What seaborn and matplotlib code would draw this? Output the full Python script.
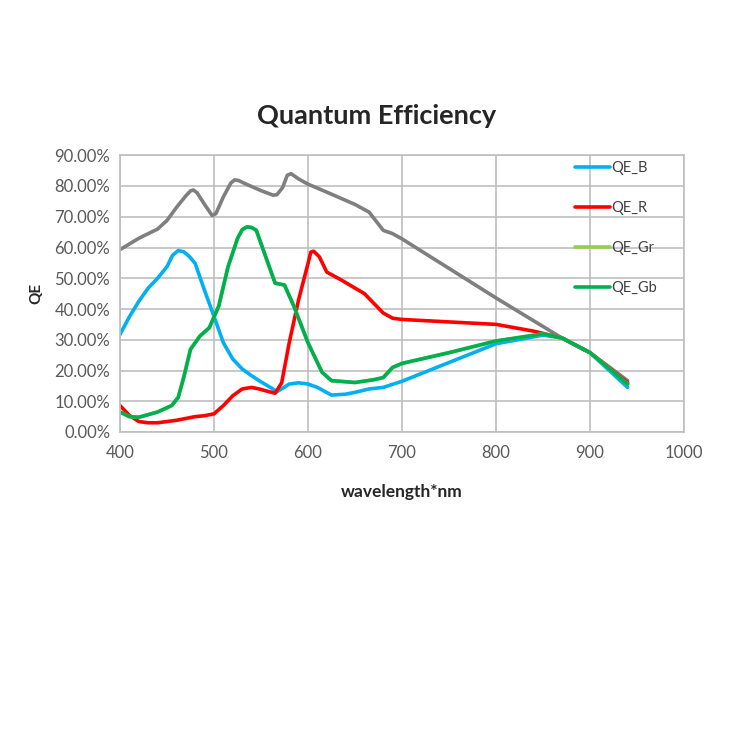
import numpy as np
import pandas as pd
import seaborn as sns
import matplotlib
matplotlib.use("Agg")
import matplotlib.pylab as plt
from matplotlib.ticker import PercentFormatter

# values (wavelength nm, QE %)
wl_mono = [400, 420, 440, 450, 460, 470, 475, 478, 482, 490, 498, 502, 510, 518, 522, 526, 535, 550, 563, 567, 573, 578,
           582, 590, 600, 620, 650, 665, 680, 690, 700, 800, 870, 900, 940]
qe_mono = [59.3, 63.0, 66.0, 68.8, 73.0, 76.8, 78.4, 78.7, 77.8, 74.0, 70.4, 71.0, 76.5, 81.0, 82.0, 81.8, 80.5, 78.5, 77.0, 77.2, 79.5, 83.5,
           84.0, 82.3, 80.6, 78.0, 74.0, 71.5, 65.6, 64.5, 62.8, 43.6, 30.6, 25.8, 16.7]

wl_b = [400, 410, 420, 430, 440, 450, 456, 462, 468, 474, 480, 490, 500, 510, 520, 530, 540, 550, 560, 567,
        575, 580, 590, 600, 610, 625, 640, 650, 665, 680, 700, 750, 800, 850, 870, 900, 940]
qe_b = [31.7, 37.5, 42.5, 46.8, 50.0, 53.8, 57.5, 59.0, 58.6, 57.0, 54.8, 46.0, 37.6, 29.0, 23.7, 20.5, 18.3, 16.3, 14.5, 13.1,
        14.6, 15.6, 16.0, 15.6, 14.5, 12.0, 12.3, 12.9, 14.0, 14.5, 16.5, 22.6, 28.7, 31.5, 30.6, 25.8, 14.5]

wl_r = [400, 410, 420, 430, 440, 460, 480, 490, 500, 510, 520, 530, 540, 548, 555, 565, 572, 580, 590,
        600, 603, 606, 612, 620, 635, 660, 680, 690, 700, 800, 840, 870, 900, 940]
qe_r = [8.6, 5.4, 3.4, 3.0, 3.0, 3.8, 5.0, 5.3, 5.9, 8.6, 11.8, 14.0, 14.5, 14.0, 13.4, 12.6, 16.0, 29.0, 43.0,
        54.8, 58.5, 58.8, 57.0, 52.0, 49.5, 45.0, 38.7, 37.0, 36.6, 35.0, 32.8, 30.6, 25.8, 16.0]

wl_g = [400, 410, 420, 440, 455, 462, 468, 475, 485, 495, 505, 515, 525, 530, 535, 540, 545, 555, 565, 575,
        585, 600, 615, 625, 650, 670, 680, 690, 700, 750, 800, 850, 870, 900, 940]
qe_gr = [6.5, 5.0, 4.8, 6.5, 8.6, 11.3, 18.0, 26.9, 31.2, 33.9, 40.9, 53.8, 62.9, 65.8, 66.7, 66.5, 65.6, 57.0, 48.4, 47.8,
         40.9, 29.0, 19.4, 16.7, 16.1, 17.0, 17.7, 21.0, 22.3, 25.8, 29.6, 31.9, 30.6, 25.8, 15.6]
qe_gb = [6.5, 5.0, 4.8, 6.5, 8.6, 11.3, 18.0, 26.9, 31.2, 33.9, 40.9, 53.8, 62.9, 65.8, 66.7, 66.5, 65.6, 57.0, 48.4, 47.8,
         40.9, 29.0, 19.4, 16.7, 16.1, 17.0, 17.7, 21.0, 22.3, 25.8, 29.6, 31.9, 30.6, 25.8, 15.6]

sns.set_style("white")
plt.rcParams['font.family'] = ['Lato', 'DejaVu Sans']

fig = plt.figure(figsize=(7.5, 7.5), dpi=100)
ax = fig.add_axes([0.16, 0.424, 0.752, 0.369])

grid_c = '#BFBFBF'
sns.lineplot(x=wl_mono, y=qe_mono, ax=ax, color='#7F7F7F', lw=2.6)
sns.lineplot(x=wl_b, y=qe_b, ax=ax, color='#00B0F0', lw=2.6, label='QE_B')
sns.lineplot(x=wl_r, y=qe_r, ax=ax, color='#FF0000', lw=2.6, label='QE_R')
sns.lineplot(x=wl_g, y=qe_gr, ax=ax, color='#92D050', lw=2.6, label='QE_Gr')
sns.lineplot(x=wl_g, y=qe_gb, ax=ax, color='#00B050', lw=2.6, label='QE_Gb')

ax.set_xlim(400, 1000)
ax.set_ylim(0, 90)
ax.set_xticks(np.arange(400, 1001, 100))
ax.set_yticks(np.arange(0, 91, 10))
ax.yaxis.set_major_formatter(PercentFormatter(decimals=2))
ax.grid(True, color=grid_c, lw=1.2)
ax.set_axisbelow(True)
for s in ax.spines.values():
    s.set_color(grid_c)
    s.set_linewidth(1.2)
ax.tick_params(axis='both', labelsize=12, colors='#595959', length=4, color=grid_c, pad=3)
ax.tick_params(axis='x', length=0, pad=9)

ax.set_xlabel('wavelength*nm', fontsize=12.5, fontweight='bold', labelpad=17)
ax.set_ylabel('QE', fontsize=11, fontweight='bold', labelpad=8)
fig.suptitle('Quantum Efficiency', fontsize=19.5, fontweight='bold', y=0.862, x=0.502)

leg = ax.legend(loc='upper left', bbox_to_anchor=(0.807, 0.98), frameon=False, fontsize=10.5,
                labelspacing=1.78, handlelength=2.4, handletextpad=0.1, borderpad=0, borderaxespad=0)
for t in leg.get_texts():
    t.set_color('#404040')

fig.savefig('out.png', dpi=100, facecolor='white')
